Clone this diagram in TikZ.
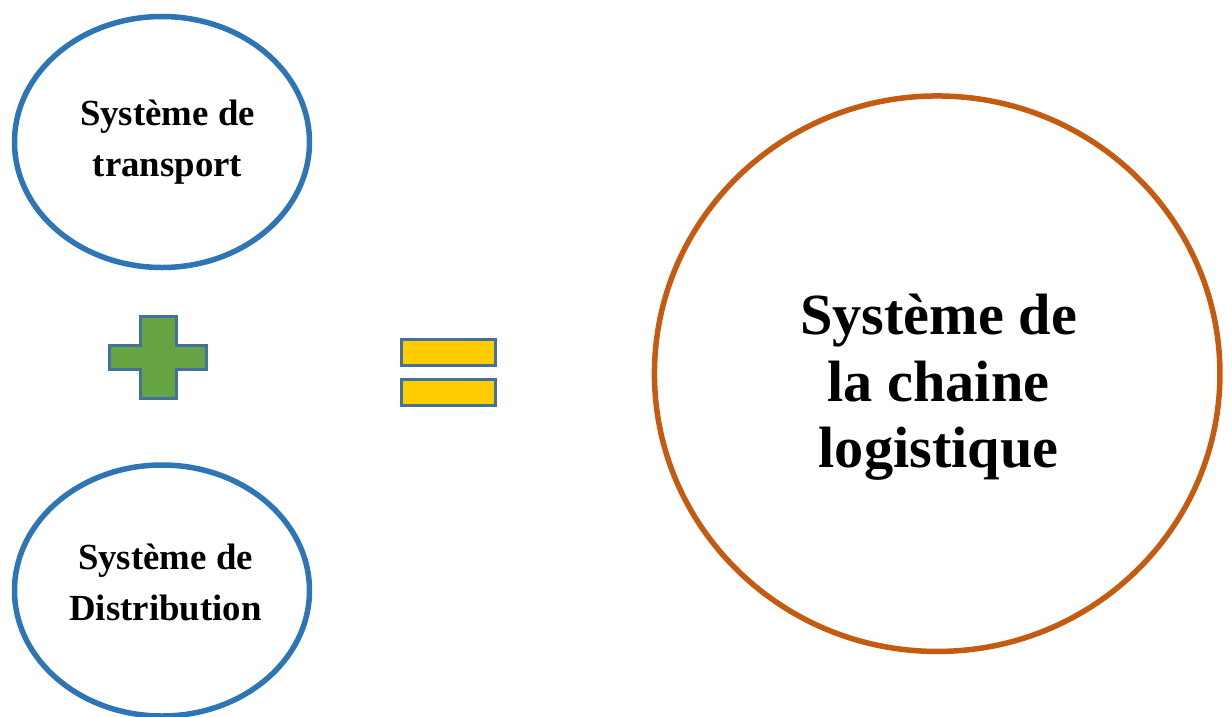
\documentclass[tikz,border=0pt]{standalone}
\usepackage{fontspec}
\setmainfont{Liberation Serif}
\usetikzlibrary{shapes.geometric}

\definecolor{ringblue}{HTML}{2E75B6}
\definecolor{ringorange}{HTML}{C55A11}
\definecolor{signedge}{HTML}{41719C}
\definecolor{plusgreen}{HTML}{66A443}
\definecolor{barGold}{HTML}{FFCC00}

\tikzset{
  ring/.style={ellipse, draw, line width=5.5pt, inner sep=0pt},
  smallring/.style={ring, draw=ringblue, minimum width=295pt, minimum height=251pt},
  bigring/.style={ring, draw=ringorange, minimum width=565.5pt, minimum height=555.5pt},
  smalltext/.style={align=center, inner sep=0pt,
    font=\fontsize{36.8}{50.5}\selectfont\bfseries},
  bigtext/.style={align=center, inner sep=0pt,
    font=\fontsize{58.3}{66.5}\selectfont\bfseries},
  sign/.style={draw=signedge, line width=3pt, line join=miter}
}

\begin{document}
\begin{tikzpicture}[x=1pt, y=-1pt]
  \useasboundingbox (0,0) rectangle (1232,716);

  % the two component systems
  \node[smallring] (transport) at (162,142) {};
  \node[smalltext] (transportlabel) at (167.5,142.2) {Système de\\transport};

  \node[smallring] (distribution) at (162,590.5) {};
  \node[smalltext] (distributionlabel) at (165.5,582.5) {Système de\\Distribution};

  % the resulting system
  \node[bigring] (chaine) at (937.2,373.7) {};
  \node[bigtext] (chainelabel) at (938.5,387.5) {Système de\\la chaine\\logistique};

  % plus sign
  \path[sign, fill=plusgreen]
    (140,316.5) -- (176.5,316.5) -- (176.5,345.5) -- (206.5,345.5)
    -- (206.5,369.5) -- (176.5,369.5) -- (176.5,398.5) -- (140,398.5)
    -- (140,369.5) -- (109.5,369.5) -- (109.5,345.5) -- (140,345.5) -- cycle;

  % equals sign
  \path[sign, fill=barGold] (401.5,339.5) rectangle (495.5,365.5);
  \path[sign, fill=barGold] (401.5,379.5) rectangle (495.5,405.5);
\end{tikzpicture}
\end{document}
